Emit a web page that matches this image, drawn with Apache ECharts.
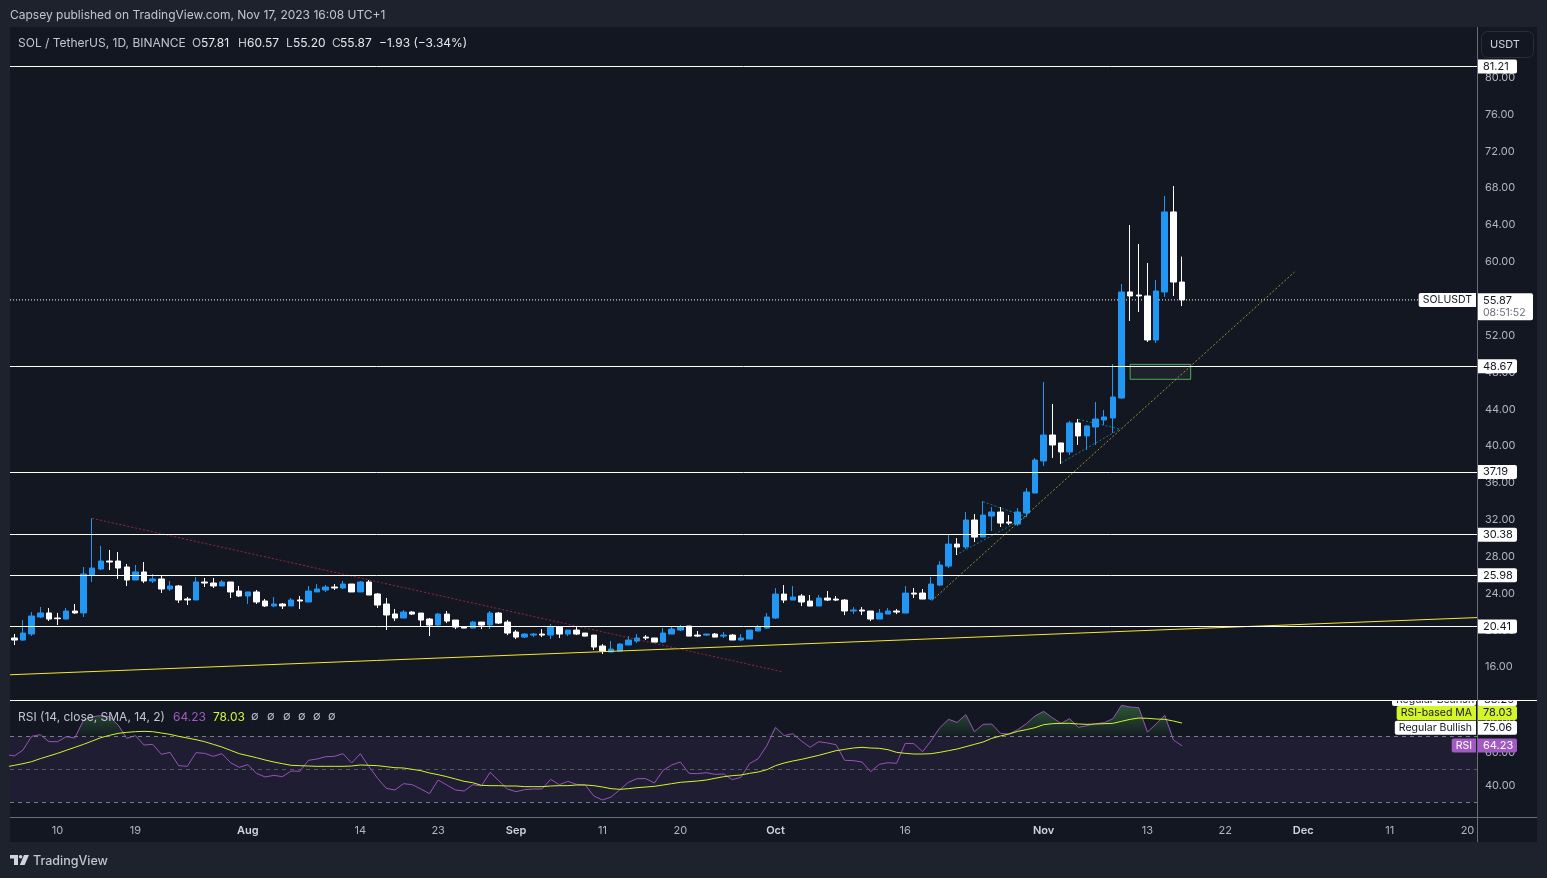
<!DOCTYPE html>
<html><head><meta charset="utf-8">
<style>html,body{margin:0;padding:0;background:#1e222d}#c{width:1547px;height:878px}</style>
<script src="https://cdn.jsdelivr.net/npm/echarts@6/dist/echarts.min.js"></script>
</head><body><div id="c"></div>
<script>
// Daily candles, 5 Jul 2023 (index 0) to 17 Nov 2023 (index 135)
const opens=[19.16,18.94,19.60,21.44,21.88,21.33,21.22,22.09,21.88,26.00,26.65,27.52,27.52,26.87,25.46,26.33,25.35,25.57,24.48,24.81,23.40,23.29,25.24,25.13,24.81,25.24,24.26,23.72,24.16,23.18,22.64,22.85,22.64,23.29,23.07,24.16,24.37,24.70,24.59,25.02,24.16,25.24,23.94,22.85,21.77,
21.33,21.98,21.87,21.22,20.57,21.76,21.11,20.35,20.24,20.89,20.57,21.87,20.89,19.81,19.26,19.48,19.59,19.48,20.35,19.59,20.02,19.70,19.48,18.29,17.64,17.74,18.40,18.83,19.26,19.16,18.72,19.59,20.02,20.46,19.48,19.48,19.59,19.37,19.48,18.94,19.05,19.92,20.24,21.33,
23.93,23.28,23.72,23.17,22.63,23.50,23.39,23.28,22.09,22.20,22.09,21.22,21.76,22.09,21.87,24.04,24.04,23.39,24.91,26.97,29.36,29.04,31.97,30.12,32.40,32.84,31.75,31.53,32.73,34.90,38.38,41.20,40.34,39.36,42.51,41.10,42.07,42.83,43.05,45.22,56.73,56.40,56.30,51.52,56.73,65.42,57.81];
const closes=[18.94,19.70,21.55,21.88,21.22,21.26,22.09,21.88,26.11,26.76,27.52,27.41,26.76,25.46,26.33,25.35,25.57,24.48,24.81,23.29,23.29,25.24,25.13,24.81,25.24,24.16,23.72,24.16,23.07,22.64,22.85,22.64,23.29,23.18,24.26,24.48,24.70,24.59,25.02,24.16,25.24,23.83,22.74,21.66,21.33,
21.98,21.76,21.11,20.57,21.76,21.00,20.35,20.24,20.89,20.57,21.87,20.78,19.70,19.26,19.59,19.59,19.48,20.35,19.59,20.02,19.59,19.37,18.18,17.74,17.96,18.50,18.94,19.16,19.16,18.72,19.70,20.13,20.35,19.37,19.37,19.59,19.26,19.48,18.94,19.16,20.02,20.35,21.44,23.93,
23.28,23.61,23.07,22.63,23.50,23.28,23.28,22.09,22.20,22.09,21.22,21.87,22.09,21.98,24.04,23.93,23.39,25.02,27.08,29.36,29.04,31.97,30.12,32.51,32.84,31.64,31.64,32.84,35.01,38.48,41.20,40.12,39.36,42.51,41.10,42.18,42.94,43.16,45.33,56.73,56.30,56.30,51.52,56.84,65.42,57.81,55.87];
const lows=[18.40,18.84,19.38,21.33,21.01,20.57,21.22,21.77,21.44,25.24,26.54,26.54,25.57,24.81,25.46,25.13,25.13,24.05,24.26,22.96,22.74,23.29,24.70,24.59,24.81,23.50,23.61,22.85,22.85,22.53,22.53,22.31,22.64,22.31,23.07,24.16,24.16,24.37,24.48,24.16,24.16,23.83,22.42,20.03,21.01,
21.33,21.65,20.46,19.37,20.35,20.78,20.13,20.24,20.24,20.13,20.13,20.68,19.48,19.05,19.16,19.26,19.26,19.05,19.16,19.37,19.48,19.37,17.85,17.42,17.64,17.74,18.40,18.61,18.94,18.72,18.61,19.59,19.92,19.37,19.26,19.37,19.26,19.16,18.94,18.83,19.05,19.92,20.13,21.22,
22.96,23.28,22.63,22.63,22.63,23.17,23.17,21.65,21.76,21.65,21.00,21.22,21.76,21.76,21.87,23.50,23.39,23.28,24.80,26.76,28.17,28.82,29.58,30.12,30.77,31.21,31.43,31.32,32.29,34.90,37.84,38.71,38.06,39.03,40.12,39.58,40.12,42.29,41.42,45.11,53.58,54.56,51.30,51.19,56.19,56.30,55.20];
const highs=[19.60,21.12,21.98,22.53,22.42,21.88,22.42,22.85,26.87,32.15,29.15,28.72,28.50,27.20,27.09,27.41,26.11,25.89,25.35,24.92,23.61,25.78,25.68,25.68,25.46,25.24,24.81,24.16,24.37,23.40,23.61,22.96,23.50,23.72,24.81,25.02,24.92,25.02,25.35,25.02,25.35,25.46,24.05,23.50,22.31,
22.20,22.09,21.87,21.33,21.87,22.09,21.11,20.46,21.00,20.89,22.09,21.98,21.11,20.02,19.70,19.70,20.13,20.68,20.46,20.02,20.35,19.70,19.48,18.50,18.83,18.61,19.37,19.59,19.48,19.16,20.24,20.46,20.57,20.46,19.92,19.59,19.70,19.81,19.59,19.59,20.02,20.57,21.87,24.58,
24.91,24.80,23.93,23.83,23.83,24.26,23.72,23.39,22.52,22.52,22.09,22.31,22.41,22.31,24.80,24.59,24.48,25.78,27.52,30.34,30.01,32.84,32.62,34.03,33.38,33.38,32.51,33.27,35.44,38.70,46.96,44.57,40.34,42.73,42.94,42.29,44.79,43.92,48.91,57.60,64.00,61.94,59.88,58.03,67.15,68.24,60.57];

// RSI and its moving average; first value sits one day before the first candle
const rsiValues=[59.07,58.06,61.70,69.98,70.99,66.75,66.75,69.78,68.97,79.88,81.90,82.51,81.90,76.85,68.77,70.39,64.73,65.13,59.07,60.29,52.21,51.80,60.08,59.68,57.86,59.48,54.02,51.20,52.81,47.56,45.34,46.35,45.54,48.97,48.77,55.44,56.25,57.66,57.86,59.48,53.82,59.48,51.60,44.53,38.47,37.46,
41.30,40.69,38.07,35.24,43.52,40.49,37.46,36.85,40.69,39.88,48.17,43.12,38.07,36.45,37.66,38.07,38.07,43.92,40.69,42.71,40.89,40.49,33.82,31.40,33.22,37.66,42.11,44.33,44.33,41.70,49.38,52.61,54.43,47.56,47.36,47.96,46.96,47.16,43.72,45.14,53.42,56.45,64.33,75.44,70.39,71.60,
67.15,63.32,66.75,65.94,64.93,55.44,55.24,54.43,48.57,53.01,54.02,53.62,65.74,65.54,60.69,67.36,75.23,80.28,78.47,83.11,72.81,77.25,77.46,71.80,71.40,74.02,77.66,82.30,85.13,81.29,77.86,80.69,75.44,76.45,77.66,78.26,80.69,88.77,87.76,87.35,72.61,77.46,82.71,67.76,64.23];
const rsiMaValues=[51.40,52.41,53.42,54.63,56.45,58.06,59.68,61.50,63.32,65.13,67.15,69.17,70.59,71.80,72.41,72.81,73.01,72.81,72.00,71.19,69.98,68.97,67.96,66.75,65.13,63.52,61.50,59.48,58.27,57.05,55.64,54.43,53.42,52.41,52.21,52.00,51.80,51.80,51.80,51.80,52.00,52.61,52.41,52.21,51.60,50.99,
50.79,49.98,49.18,47.76,46.75,45.54,44.13,42.71,41.90,40.29,40.09,40.09,39.88,39.88,39.48,39.48,39.48,39.88,40.09,40.09,40.49,40.49,40.09,39.28,38.27,37.86,38.27,38.87,39.28,39.68,40.49,41.30,42.11,42.51,42.91,43.52,44.53,45.54,46.15,46.55,47.56,48.37,49.78,52.21,53.82,55.03,
56.04,57.26,58.47,59.88,61.30,62.10,62.91,63.32,62.91,62.71,61.90,60.29,59.68,59.28,59.28,59.48,60.29,61.30,62.31,63.72,65.13,66.55,68.77,70.18,71.40,73.01,74.02,75.23,77.05,77.66,77.86,77.86,77.46,77.25,77.46,77.66,77.86,79.07,80.28,81.09,80.89,80.49,80.28,79.27,78.03];

// Time axis: day index from 5 Jul 2023
const timeTickDays=[5,14,27,40,49,58,68,77,88,103,119,131,140,149,159,168];
const timeTickLabels=['10','19','Aug','14','23','Sep','11','20','Oct','16','Nov','13','22','Dec','11','20'];
const priceTicks=[80,76,72,68,64,60,56,52,48,44,40,36,32,28,24,20,16];
const rsiTicks=[80,60,40];
const levelPrices=[81.21,48.67,37.19,30.38,25.98,20.41];
const lastPrice=55.87, countdown='08:51:52';
// Drawn trend lines as [day index, price] pairs
const longYellow=[[-0.5,15.17],[169.1,21.38]];
const redDown=[[9,32.15],[88.9,15.47]];
const yellowUp=[[106.05,23.21],[148,58.90]];
const tealWedge1=[[112,33.96],[117,32.30],[109,28.24]];
const tealWedge2=[[123,42.90],[127.8,41.85],[121,38.16]];
const boxDays=[129,136], boxPrices=[47.25,48.87];

const BG='#131722',OUT='#1e222d',UP='#2196f3',DOWN='#ffffff',PUR='#a259c4',LIME='#d4f52a',GREY='#b2b5be',FF='Inter, "Liberation Sans", sans-serif';
const X0=-0.5,X1=169.1;
const candleData=opens.map((o,i)=>[i,o,closes[i],lows[i],highs[i]]);
const rsiData=rsiValues.map((v,i)=>[i-1,v]);
const maData=rsiMaValues.map((v,i)=>[i-1,v]);
const overData=rsiValues.map((v,i)=>[i-1,Math.max(v,70)]);

const trend=(data,color,type,opacity,extra)=>Object.assign({type:'line',xAxisIndex:0,yAxisIndex:0,data,symbol:'none',silent:true,z:4,
  lineStyle:{color,width:1,type,opacity}},extra||{});
const tagBase={show:true,fontFamily:FF,fontSize:11,lineHeight:13,color:'#131722',backgroundColor:'#fff',padding:[1,4,0,6],width:30,opacity:1};
const priceTag=(v,txt)=>({value:[X1,v],label:Object.assign({},tagBase,{position:'right',distance:0,formatter:txt,borderRadius:[0,2,2,0]})});
const leftTag=(y,txt,bg,col)=>({value:[X1,y],label:Object.assign({},tagBase,{position:'left',distance:1,formatter:txt,backgroundColor:bg,color:col,width:null,fontSize:10.5,padding:[1,4,0,4],borderRadius:[2,0,0,2]})});
const rightTag=(y,txt,bg,col)=>({value:[X1,y],label:Object.assign({},tagBase,{position:'right',distance:0,formatter:txt,backgroundColor:bg,color:col,borderRadius:[0,2,2,0]})});

const txt=(x,y,text,color,size,extra)=>({type:'text',x,y,z:50,style:Object.assign({text,fill:color,font:`${size}px ${FF}`,textVerticalAlign:'middle',textBaseline:'middle'},extra||{})});
const rect=(x,y,w,h,fill,z,extra)=>({type:'rect',z,shape:Object.assign({x,y,width:w,height:h},extra&&extra.shape||{}),style:Object.assign({fill},extra&&extra.style||{})});

const chart=echarts.init(document.getElementById('c'),null,{renderer:'canvas'});
chart.setOption({
 animation:false,backgroundColor:OUT,
 grid:[{left:10,top:27,width:1467,height:673},{left:10,top:701,width:1467,height:116}],
 xAxis:[
  {type:'value',gridIndex:0,min:X0,max:X1,axisLine:{show:false},axisTick:{show:false},axisLabel:{show:false},splitLine:{show:false}},
  {type:'value',gridIndex:1,min:X0,max:X1,axisLine:{show:false},axisTick:{show:false},splitLine:{show:false},
   axisLabel:{show:true,customValues:timeTickDays,hideOverlap:false,showMinLabel:true,showMaxLabel:true,margin:8,color:GREY,fontFamily:FF,fontSize:11,
    formatter:v=>{const s=timeTickLabels[timeTickDays.indexOf(v)];return /[A-Z]/.test(s)?`{m|${s}}`:s;},
    rich:{m:{color:'#d1d4dc',fontWeight:600,fontFamily:FF,fontSize:11}}}}
 ],
 yAxis:[
  {type:'value',gridIndex:0,position:'right',min:12.43,max:85.5,axisLine:{show:false},axisTick:{show:false},splitLine:{show:false},
   axisLabel:{customValues:priceTicks,margin:8,color:GREY,fontFamily:FF,fontSize:11,formatter:v=>v.toFixed(2)}},
  {type:'value',gridIndex:1,position:'right',min:21.1,max:91.4,axisLine:{show:false},axisTick:{show:false},splitLine:{show:false},
   axisLabel:{customValues:rsiTicks,margin:8,color:GREY,fontFamily:FF,fontSize:11,formatter:v=>v.toFixed(2)}}
 ],
 series:[
  {type:'line',xAxisIndex:0,yAxisIndex:0,data:[],silent:true,z:1,
   markLine:{silent:true,symbol:'none',label:{show:false},animation:false,
    lineStyle:{color:'#fff',width:1,type:'solid'},
    data:levelPrices.map(v=>({yAxis:v}))}},
  {type:'candlestick',xAxisIndex:0,yAxisIndex:0,data:candleData,encode:{x:0,y:[1,2,3,4]},barWidth:6,silent:true,z:3,clip:true,
   itemStyle:{color:UP,color0:DOWN,borderColor:UP,borderColor0:DOWN,borderColorDoji:DOWN,borderWidth:1}},
  {type:'line',xAxisIndex:0,yAxisIndex:0,data:[[X0,lastPrice],[X1,lastPrice]],symbol:'none',silent:true,z:2,
   lineStyle:{color:'#fff',width:1,type:[1,2]}},
  trend(longYellow,'#f7e82d','solid',1),
  trend(redDown,'#d22b4a',[2,2],0.7),
  trend(yellowUp,'#e6d62e',[2,2],0.65),
  trend(tealWedge1,'#1e9fb0',[2,2],0.7),
  trend(tealWedge2,'#1e9fb0',[2,2],0.7),
  {type:'line',xAxisIndex:0,yAxisIndex:0,data:[],silent:true,z:5,
   markArea:{silent:true,itemStyle:{color:'rgba(255,255,255,0.05)',borderColor:'#4caf50',borderWidth:1},
    data:[[{coord:[boxDays[0],boxPrices[1]]},{coord:[boxDays[1],boxPrices[0]]}]]}},
  // RSI pane
  {type:'line',xAxisIndex:1,yAxisIndex:1,data:overData,symbol:'none',silent:true,z:2,lineStyle:{width:0},
   areaStyle:{origin:70,color:new echarts.graphic.LinearGradient(0,0,0,1,[{offset:0,color:'rgba(76,175,80,0.6)'},{offset:1,color:'rgba(76,175,80,0.05)'}])}},
  {type:'line',xAxisIndex:1,yAxisIndex:1,data:rsiData,symbol:'none',silent:true,z:4,lineStyle:{color:'#9a52b8',width:1},
   markArea:{silent:true,itemStyle:{color:'rgba(126,87,194,0.1)'},data:[[{yAxis:70},{yAxis:30}]]},
   markLine:{silent:true,symbol:'none',label:{show:false},lineStyle:{color:'#787b86',width:1,type:[4,4]},
    data:[{yAxis:70},{yAxis:30},{yAxis:50,lineStyle:{color:'#555863',width:1,type:[4,4]}}]}},
  {type:'line',xAxisIndex:1,yAxisIndex:1,data:maData,symbol:'none',silent:true,z:5,lineStyle:{color:LIME,width:1}},
  // Right-hand tags
  {type:'scatter',xAxisIndex:0,yAxisIndex:0,symbolSize:0,silent:true,clip:false,z:20,itemStyle:{opacity:1},label:{show:true},
   data:[...levelPrices.map(v=>priceTag(v,v.toFixed(2))),
    {value:[X1,lastPrice],label:Object.assign({},tagBase,{position:'left',distance:1,formatter:'SOLUSDT',width:null,fontSize:10.5,padding:[1,4,0,4],borderRadius:[2,0,0,2]})},
    {value:[X1,lastPrice-0.75],label:Object.assign({},tagBase,{position:'right',distance:0,formatter:`{a|${lastPrice.toFixed(2)}}\n{b|${countdown}}`,width:46,borderRadius:[0,2,2,2],padding:[1,4,1,6],
      rich:{a:{color:'#131722',fontFamily:FF,fontSize:11,lineHeight:13},b:{color:'#6a6d78',fontFamily:FF,fontSize:10.5,lineHeight:12}}})}]},
  {type:'scatter',xAxisIndex:1,yAxisIndex:1,symbolSize:0,silent:true,clip:false,z:20,itemStyle:{opacity:1},label:{show:true},
   data:[leftTag(84.1,'RSI-based MA',LIME,'#131722'),rightTag(84.1,'78.03',LIME,'#131722'),
    leftTag(75.2,'Regular Bullish','#fff','#131722'),rightTag(75.2,'75.06','#fff','#131722'),
    leftTag(64.5,'RSI',PUR,'#fff'),rightTag(64.5,'64.23',PUR,'#fff')]}
 ],
 graphic:[
  rect(10,27,1527,815,BG,-10),
  // clipped top tags of the RSI pane
  rect(1392,693,84,13,'#fff',30,{shape:{r:2}}),rect(1477,693,40,13,'#fff',30,{shape:{r:2}}),
  txt(1396,699.5,'Regular Bearish','#131722',10.5,{z:31}),txt(1484,699.5,'88.26','#131722',11),
  rect(1380,688,157,12,BG,60),
  // pane rules
  rect(10,700,1527,1,'#ffffff',61),
  rect(10,817,1527,1,'#6a6d78',61),
  rect(1477,27,1,815,'#6a6d78',61),
  // currency button
  {type:'rect',z:40,shape:{x:1481.5,y:31.5,width:52,height:26,r:6},style:{fill:BG,stroke:'#2a2e39',lineWidth:1}},
  txt(1490,44.5,'USDT','#d1d4dc',11),
  // header
  txt(10,15,'Capsey published on TradingView.com, Nov 17, 2023 16:08 UTC+1','#c3c6ce',12),
  txt(18,43,'SOL / TetherUS, 1D, BINANCE','#c3c6ce',12),
  txt(192,43,'O','#c3c6ce',12),txt(201,43,'57.81','#e6e8ee',12),
  txt(238,43,'H','#c3c6ce',12),txt(247,43,'60.57','#e6e8ee',12),
  txt(286,43,'L','#c3c6ce',12),txt(293,43,'55.20','#e6e8ee',12),
  txt(332,43,'C','#c3c6ce',12),txt(340,43,'55.87','#e6e8ee',12),
  txt(379,43,'\u22121.93 (\u22123.34%)','#e6e8ee',12),
  // RSI legend
  txt(18,717,'RSI (14, close, SMA, 14, 2)','#c3c6ce',12),
  txt(173,717,'64.23',PUR,12),txt(213,717,'78.03',LIME,12),
  ...[251,267,283,298,313,328].map(x=>txt(x,717,'\u2205','#c3c6ce',11)),
  // footer brand
  {type:'polygon',z:50,shape:{points:[[10,855],[18,855],[18,865],[14,865],[14,858.5],[10,858.5]]},style:{fill:'#d1d4dc'}},
  {type:'circle',z:50,shape:{cx:20.6,cy:856.8,r:1.8},style:{fill:'#d1d4dc'}},
  {type:'polygon',z:50,shape:{points:[[24,855],[29,855],[24.6,865],[19.8,865]]},style:{fill:'#d1d4dc'}},
  {type:'text',x:33,y:861.5,z:50,style:{text:'TradingView',fill:'#c3c6ce',font:`500 12.5px ${FF}`,textBaseline:'middle',textVerticalAlign:'middle'}}
 ]
});
</script></body></html>
